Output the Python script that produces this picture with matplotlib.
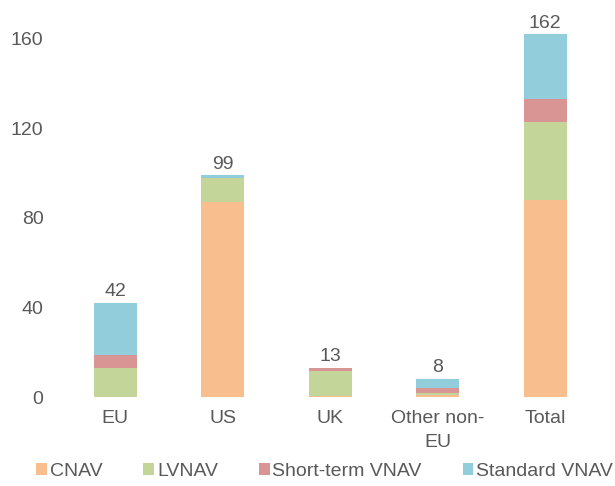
import numpy as np
import matplotlib.pyplot as plt

categories = ['EU', 'US', 'UK', 'Other non-\nEU', 'Total']
cnav = [0, 87, 0.5, 1, 88]
lvnav = [13, 11, 11, 1, 35]
st_vnav = [6, 0, 1.5, 2, 10]
std_vnav = [23, 1, 0, 4, 29]
totals = [42, 99, 13, 8, 162]
series_names = ['CNAV', 'LVNAV', 'Short-term VNAV', 'Standard VNAV']
colors = ['#F8BE8E', '#C4D59A', '#D99594', '#92CDDC']

plt.rcParams['font.family'] = ['Liberation Sans', 'DejaVu Sans']
grey = '#595959'
fs = 14

fig = plt.figure(figsize=(6.15, 4.86), dpi=100)
ax = fig.add_axes([0.1, 0.183, 0.874, 0.806])

x = np.arange(len(categories))
bottom = np.zeros(len(categories))
for vals, name, c in zip([cnav, lvnav, st_vnav, std_vnav], series_names, colors):
    ax.bar(x, vals, 0.4, bottom=bottom, color=c, label=name)
    bottom += np.array(vals)

for xi, t in zip(x, totals):
    ax.text(xi, t + 1.2, str(t), ha='center', va='bottom', fontsize=fs, color=grey)

ax.set_xlim(-0.5, 4.5)
ax.set_ylim(0, 175)
ax.set_yticks([0, 40, 80, 120, 160])
ax.set_xticks(x)
ax.set_xticklabels(categories, linespacing=1.55)
ax.tick_params(axis='both', length=0, labelsize=fs, labelcolor=grey)
ax.tick_params(axis='y', pad=13)
ax.tick_params(axis='x', pad=9)
for s in ax.spines.values():
    s.set_visible(False)

fig.legend(*ax.get_legend_handles_labels(), loc='center', bbox_to_anchor=(0.528, 0.03),
           ncol=4, frameon=False, fontsize=fs, labelcolor=grey, handlelength=0.55,
           handleheight=0.55, handletextpad=0.15, columnspacing=2.1, borderpad=0)

fig.savefig('out.png', dpi=100)
